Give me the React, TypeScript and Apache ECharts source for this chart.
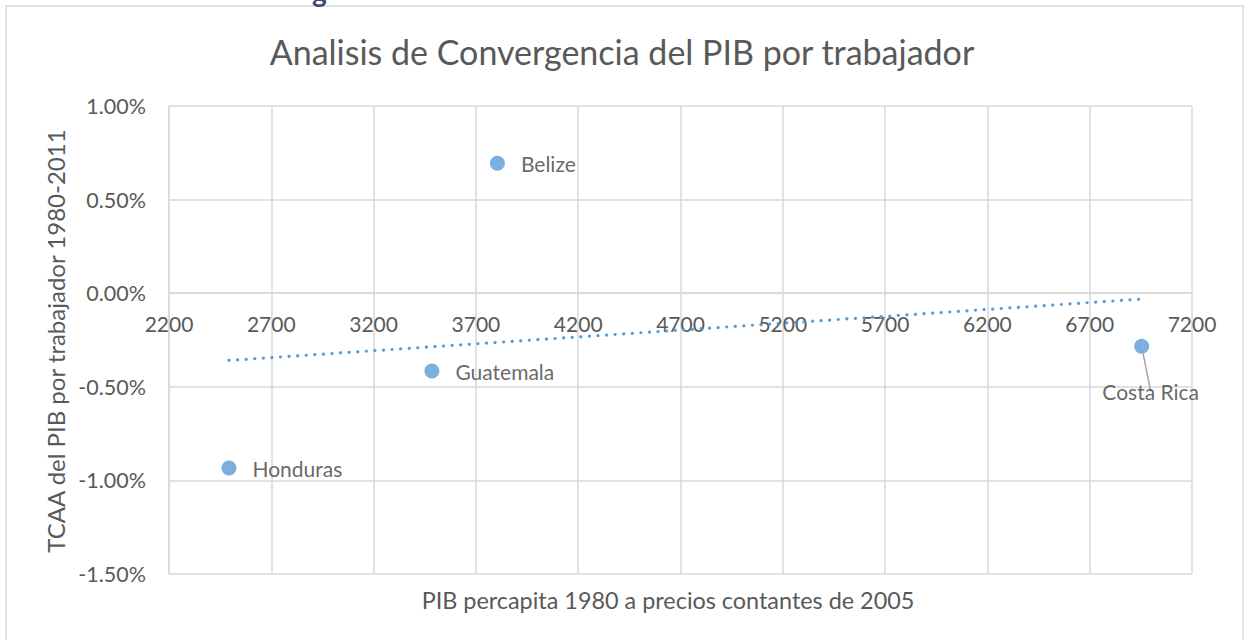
import React, { useEffect, useRef } from "react";
import * as echarts from "echarts";

const countries = ["Honduras", "Guatemala", "Belize", "Costa Rica"];
const pibPerWorker1980 = [2493, 3485, 3805, 6954];
const tcaaPercent = [-0.934, -0.416, 0.694, -0.284];
const xTicks = { min: 2200, max: 7200, step: 500 };
const yTicks = { min: -1.5, max: 1.0, step: 0.5 };

const titleText = "Analisis de Convergencia del PIB por trabajador";
const xTitle = "PIB percapita 1980 a precios contantes de 2005";
const yTitle = "TCAA del PIB por trabajador 1980-2011";

function linearTrend(xs: number[], ys: number[]) {
  const n = xs.length;
  const mx = xs.reduce((a, b) => a + b, 0) / n;
  const my = ys.reduce((a, b) => a + b, 0) / n;
  let sxy = 0, sxx = 0;
  for (let i = 0; i < n; i++) {
    sxy += (xs[i] - mx) * (ys[i] - my);
    sxx += (xs[i] - mx) * (xs[i] - mx);
  }
  const slope = sxy / sxx;
  const icpt = my - slope * mx;
  const x0 = Math.min(...xs), x1 = Math.max(...xs);
  return [[x0, icpt + slope * x0], [x1, icpt + slope * x1]];
}

export default function App() {
  const ref = useRef<HTMLDivElement>(null);
  useEffect(() => {
    if (!ref.current) return;
    const chart = echarts.init(ref.current, undefined, { renderer: "svg" });
    const FONT = "Lato";
    const grid = "#D9D9D9";
    const textCol = "#595959";
    const blue = "#5B9BD5";
    const gridTop = 106, gridBottom = 66, H = 640;
    const plotH = H - gridTop - gridBottom;
    // distance from bottom of plot to the y = 0 line, through the y scale
    const zeroOffset = (plotH * (0 - yTicks.min)) / (yTicks.max - yTicks.min);
    const points = countries.map((c, i) => {
      const item: any = { value: [pibPerWorker1980[i], tcaaPercent[i]], name: c };
      if (c === "Costa Rica") {
        item.label = { position: "bottom", distance: 27, offset: [9, 0] };
        item.labelLine = { show: true };
      }
      return item;
    });
    chart.setOption({
      animation: false,
      backgroundColor: "#ffffff",
      grid: { left: 169, right: 53, top: gridTop, bottom: gridBottom, containLabel: false },
      xAxis: {
        type: "value",
        min: xTicks.min,
        max: xTicks.max,
        interval: xTicks.step,
        offset: -zeroOffset,
        axisLine: { show: true, onZero: false, lineStyle: { color: grid, width: 1.5 } },
        axisTick: { show: false },
        axisLabel: {
          color: textCol,
          fontFamily: FONT,
          fontSize: 21,
          margin: 20,
          formatter: (v: number) => String(v),
        },
        splitLine: { show: true, lineStyle: { color: grid, width: 1.5 } },
      },
      yAxis: {
        type: "value",
        min: yTicks.min,
        max: yTicks.max,
        interval: yTicks.step,
        axisLine: { show: true, onZero: false, lineStyle: { color: grid, width: 1.5 } },
        axisTick: { show: false },
        axisLabel: {
          color: textCol,
          fontFamily: FONT,
          fontSize: 21.5,
          margin: 23,
          formatter: (v: number) => v.toFixed(2) + "%",
        },
        splitLine: { show: true, lineStyle: { color: grid, width: 1.5 } },
      },
      series: [
        {
          type: "line",
          data: linearTrend(pibPerWorker1980, tcaaPercent),
          symbol: "none",
          silent: true,
          z: 2,
          lineStyle: { color: blue, width: 3.2, type: [0.1, 8.5], cap: "round" },
        },
        {
          type: "scatter",
          data: points,
          symbolSize: 15,
          z: 3,
          itemStyle: { color: blue },
          label: {
            show: true,
            position: "right",
            distance: 16,
            formatter: (p: any) => p.name,
            color: "#404040",
            fontFamily: FONT,
            fontSize: 21,
          },
          labelLine: { lineStyle: { color: "#A6A6A6", width: 1.5 } },
        },
      ],
      graphic: [
        {
          type: "rect",
          shape: { x: 6, y: 6, width: 1237, height: 700 },
          style: { fill: "none", stroke: grid, lineWidth: 1.5 },
          silent: true,
          z: -10,
        },
        {
          type: "text",
          x: 312,
          y: -23,
          style: { text: "g", fill: "#3B4A66", font: "bold 28px Lato" },
        },
        {
          type: "text",
          x: 622,
          y: 51,
          style: {
            text: titleText,
            fill: textCol,
            font: "34px Lato",
            textAlign: "center",
            textVerticalAlign: "middle",
          },
        },
        {
          type: "text",
          x: 668,
          y: 600,
          style: {
            text: xTitle,
            fill: textCol,
            font: "23.4px Lato",
            textAlign: "center",
            textVerticalAlign: "middle",
          },
        },
        {
          type: "text",
          x: 55,
          y: 341,
          rotation: Math.PI / 2,
          style: {
            text: yTitle,
            fill: textCol,
            font: "24px Lato",
            textAlign: "center",
            textVerticalAlign: "middle",
          },
        },
      ],
    });
    return () => chart.dispose();
  }, []);
  return (
    <div
      ref={ref}
      style={{ position: "fixed", left: 0, top: 0, width: 1245, height: 640 }}
    />
  );
}
